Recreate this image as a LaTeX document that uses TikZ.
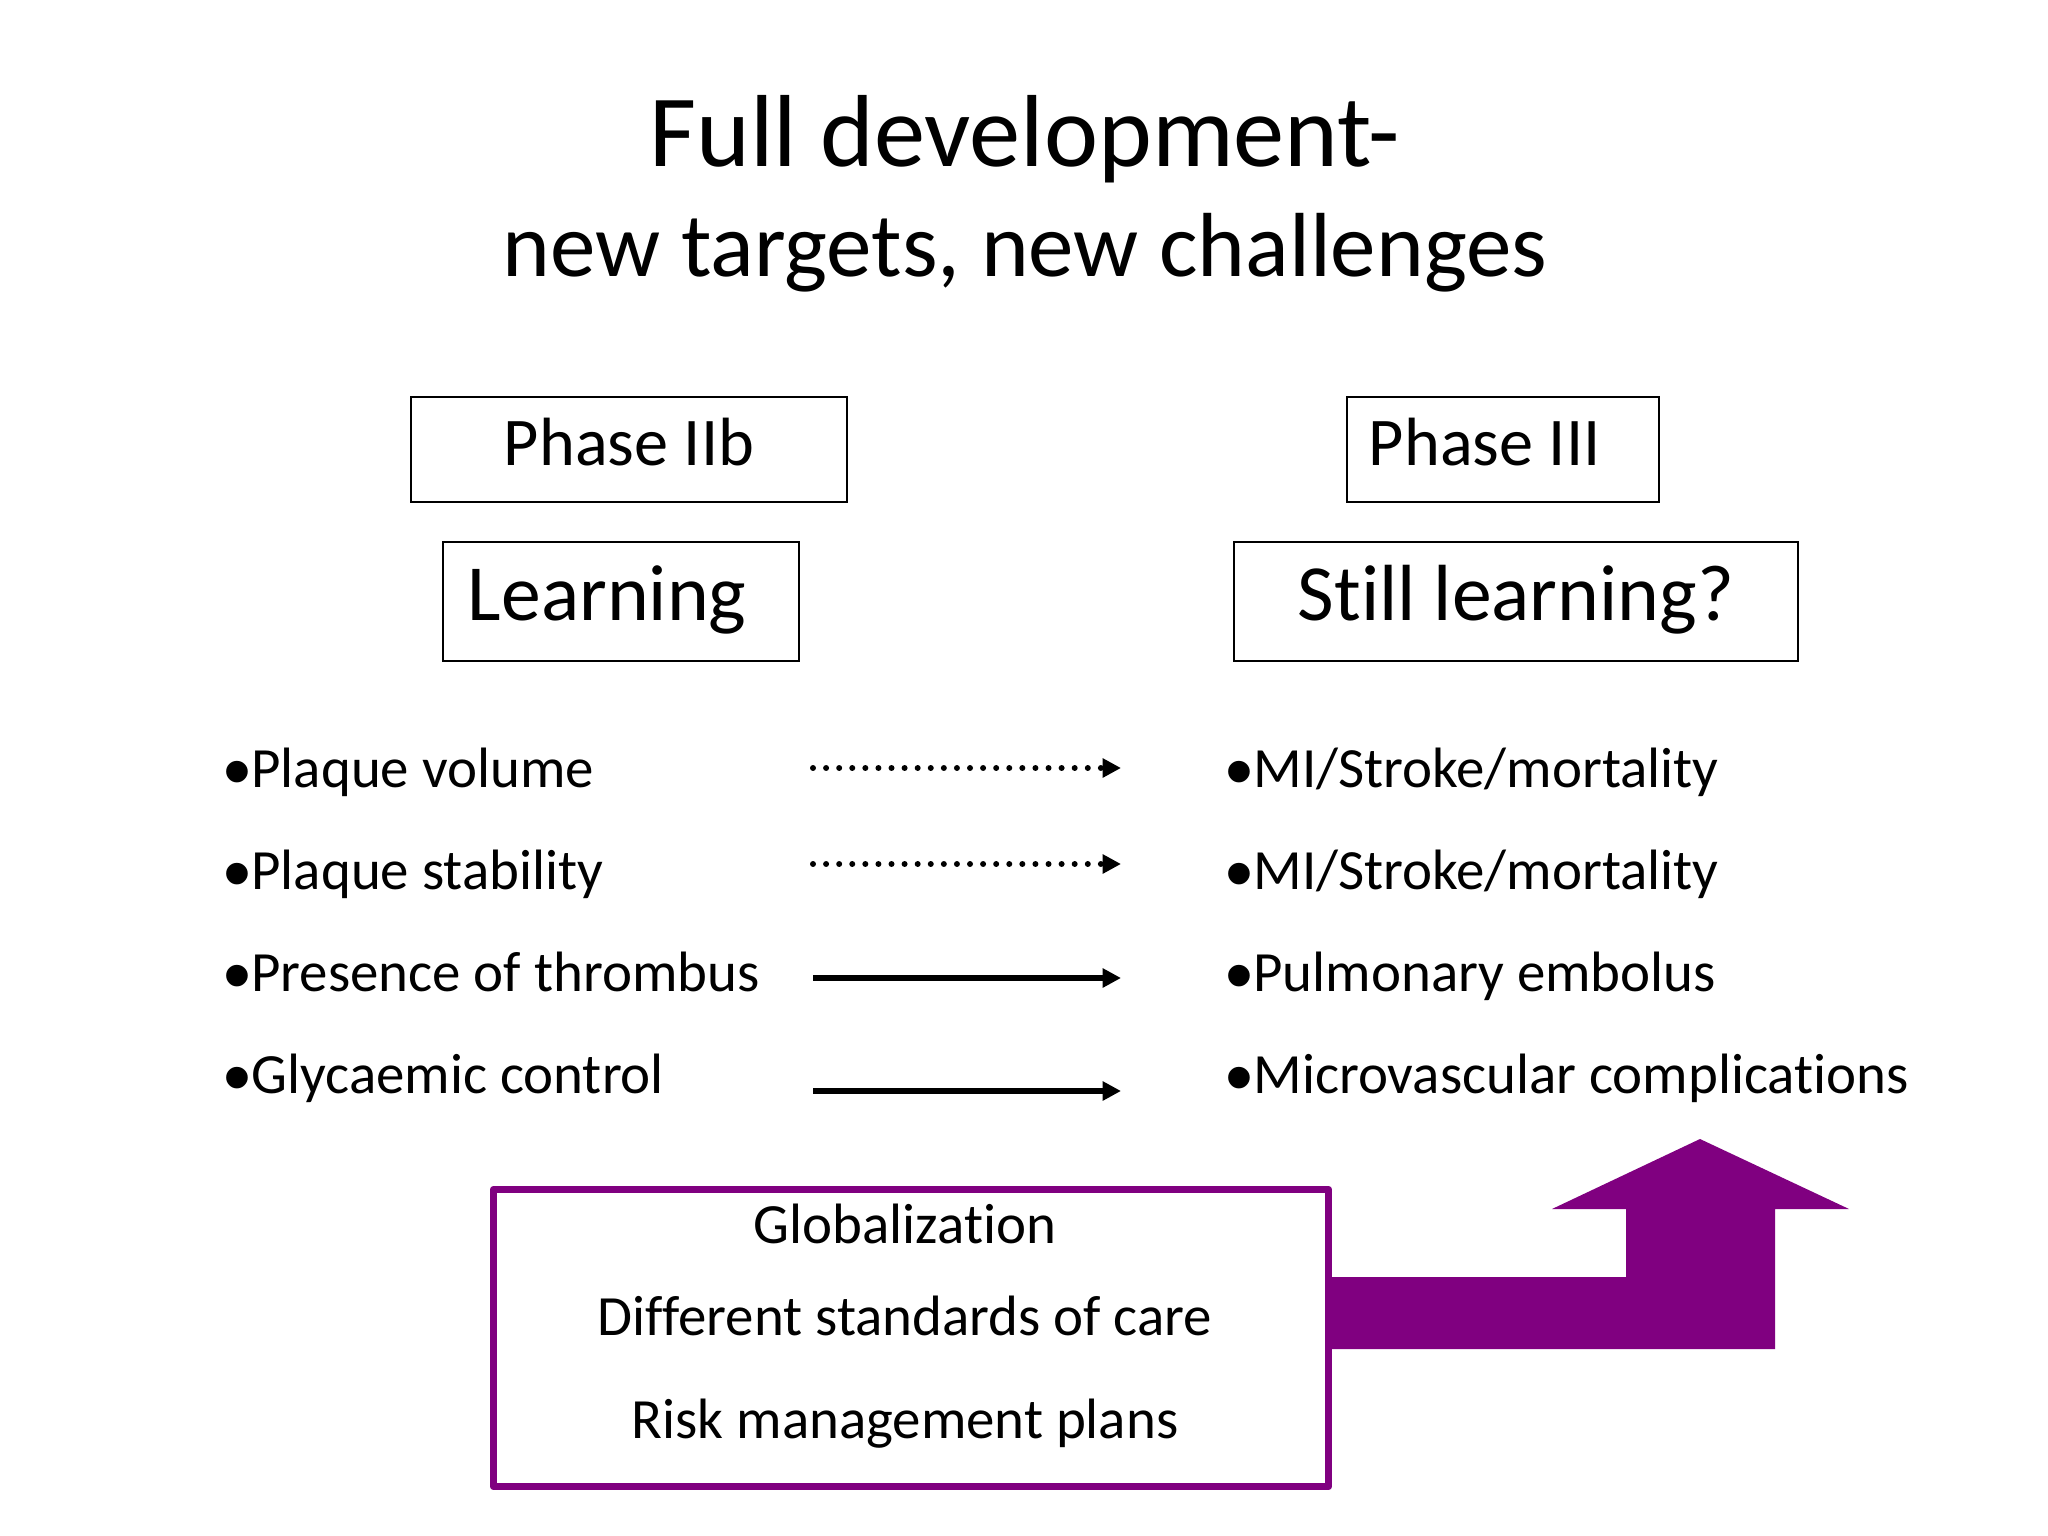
\documentclass[tikz,border=0pt]{standalone}
\usepackage{fontspec}
\setmainfont{Carlito}[RawFeature={-liga;-clig;-dlig}]
\newfontfamily\bulletfont{Liberation Sans}
\usetikzlibrary{arrows.meta}
\definecolor{slidepurple}{RGB}{128,0,128}
\newcommand{\itembullet}{{\bulletfont\fontsize{28}{28}\selectfont\raisebox{-4pt}{•}}}

\begin{document}
\begin{tikzpicture}[x=0.3515625pt,y=-0.3515625pt,
    tagbox/.style={draw, line width=0.6pt, inner ysep=0pt, inner xsep=0pt},
    phasefont/.style={font=\fontsize{24}{28}\selectfont, text height=17pt, text depth=5.4pt, minimum height=36.9pt},
    learnfont/.style={font=\fontsize{28}{32}\selectfont, text height=20pt, text depth=6.3pt, minimum height=41.8pt},
    item/.style={font=\fontsize{20}{24}\selectfont, inner sep=0pt, anchor=base west},
    boxline/.style={font=\fontsize{20}{24}\selectfont, inner sep=0pt, anchor=base},
    globbox/.style={draw=slidepurple, line width=2.5pt, line join=round, inner sep=0pt, minimum width=293.6pt, minimum height=104.5pt},
    solidarrow/.style={line width=2pt, -{Triangle[length=6.5pt,width=6.5pt]}},
    dotarrow/.style={solidarrow, line width=2.1pt, line cap=round, dash pattern=on 0pt off 4.6pt}]
    \useasboundingbox (0,0) rectangle (2048,1536);

    \node [anchor=base, inner sep=0pt, font=\fontsize{36}{40}\selectfont] (title) at (1025,167) {Full development-};
    \node [anchor=base, inner sep=0pt, font=\fontsize{32}{36}\selectfont] (subtitle) at (1025,277) {new targets, new challenges};

    \node [tagbox, phasefont, minimum width=153.3pt] (phaseiib) at (629,449.5) {Phase IIb};
    \node [tagbox, phasefont, inner xsep=7.7pt, text width=94.3pt, align=flush left] (phaseiii) at (1503,449.5) {Phase III};
    \node [tagbox, learnfont, inner xsep=8.8pt, text width=107.6pt, align=flush left] (learning) at (621,601.5) {Learning};
    \node [tagbox, learnfont, minimum width=198.3pt] (still) at (1516,601.5) {Still learning?};

    \node [item] (volume) at (223,787) {\itembullet Plaque volume};
    \node [item] (stability) at (223,889) {\itembullet Plaque stability};
    \node [item] (thrombus) at (223,991) {\itembullet Presence of thrombus};
    \node [item] (glycaemic) at (223,1093) {\itembullet Glycaemic control};

    \node [item] (mortone) at (1225,787) {\itembullet MI/Stroke/mortality};
    \node [item] (morttwo) at (1225,889) {\itembullet MI/Stroke/mortality};
    \node [item] (embolus) at (1225,991) {\itembullet Pulmonary embolus};
    \node [item] (micro) at (1225,1093) {\itembullet Microvascular complications};

    \coordinate (volstart) at (813,768);   \coordinate (volend) at (1121,768);
    \coordinate (stabstart) at (813,864);  \coordinate (stabend) at (1121,864);
    \coordinate (thrstart) at (813,978);   \coordinate (thrend) at (1121,978);
    \coordinate (glystart) at (813,1091);  \coordinate (glyend) at (1121,1091);
    \draw [dotarrow] (volstart) -- (volend);
    \draw [dotarrow] (stabstart) -- (stabend);
    \draw [solidarrow] (thrstart) -- (thrend);
    \draw [solidarrow] (glystart) -- (glyend);

    \node [globbox] (glob) at (911,1338) {};
    \node [boxline] (globalization) at (905,1243) {Globalization};
    \node [boxline] (standards) at (905,1335) {Different standards of care};
    \node [boxline] (riskplans) at (905,1438) {Risk management plans};

    \fill [slidepurple] (glob.east |- 0,1277) -- (1626,1277) -- (1626,1209) -- (1552,1209)
        -- (1700,1139) -- (1849,1209) -- (1775,1209) -- (1775,1349) -- (glob.east |- 0,1349) -- cycle;
\end{tikzpicture}
\end{document}
